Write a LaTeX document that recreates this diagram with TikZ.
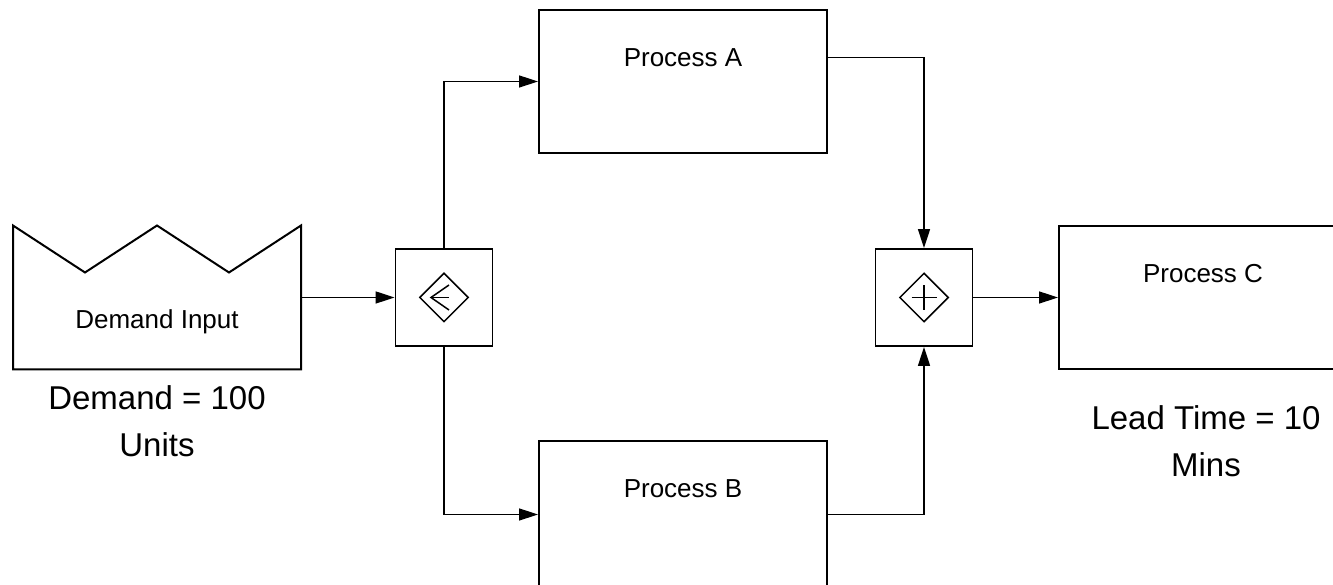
\documentclass[tikz,border=0pt]{standalone}
\usepackage{fontspec}
\setmainfont{Liberation Sans}
\usetikzlibrary{arrows.meta,calc,positioning,shapes.geometric}
\tikzset{
  proceso/.style={
    draw,
    line width=2pt,
    minimum width=288pt,
    minimum height=143pt,
    inner sep=0pt
  },
  titulo/.style={
    anchor=center,
    font=\fontsize{26}{30}\selectfont
  },
  entrada/.style={
    minimum width=288pt,
    minimum height=144pt,
    inner sep=0pt,
    outer sep=0pt
  },
  contorno/.style={
    line width=2pt,
    line join=miter
  },
  compuerta/.style={
    draw,
    line width=1.9pt,
    minimum size=97pt,
    inner sep=0pt
  },
  rombo/.style={
    diamond,
    draw,
    line width=1.5pt,
    minimum width=49pt,
    minimum height=49pt,
    inner sep=0pt
  },
  simbolo/.style={
    line width=1.5pt
  },
  nota/.style={
    align=center,
    font=\fontsize{33}{47}\selectfont
  },
  flecha/.style={
    -{Triangle[length=19pt,width=12pt]},
    line width=1.5pt
  }
}

\begin{document}
\begin{tikzpicture}[x=1pt,y=1pt,on grid]
\useasboundingbox (0,0) rectangle (1333,585);
\node[compuerta] (split) at (444,287.5) {};
\node[rombo] (splitrombo) at (split.center) {};
\node[entrada,left=287pt of split,label={[titulo,yshift=-24pt]center:Demand Input}] (demand) {};
\node[proceso,above right=216pt and 239pt of split,label={[titulo,yshift=24pt]center:Process A}] (procA) {};
\node[proceso,minimum height=147pt,below right=217pt and 239pt of split,label={[titulo,yshift=26pt]center:Process B}] (procB) {};
\node[compuerta,right=480pt of split] (join) {};
\node[rombo] (joinrombo) at (join.center) {};
\node[proceso,right=759pt of split,label={[titulo,yshift=24pt]center:Process C}] (procC) {};
\node[nota,below=123.5pt of demand] (demandnota) {Demand = 100\\Units};
\node[nota,below=144pt of procC,xshift=3pt] (leadnota) {Lead Time = 10\\Mins};

\draw[contorno] (demand.south west) -- (demand.north west) -- ++(72pt,-47pt)
  -- (demand.north) -- ++(72pt,-47pt) -- (demand.north east)
  -- (demand.south east) -- cycle;

\draw[simbolo] ([xshift=5pt,yshift=12.5pt]split.center) -- ([xshift=-13pt]split.center)
  -- ([xshift=5pt,yshift=-12.5pt]split.center);
\draw[simbolo] ([xshift=-13pt]split.center) -- ([xshift=5pt]split.center);
\draw[simbolo] ([xshift=-12.5pt]join.center) -- ([xshift=12.5pt]join.center);
\draw[simbolo] ([yshift=-12.5pt]join.center) -- ([yshift=12.5pt]join.center);

\draw[flecha] (demand.east) -- (split.west);
\draw[flecha] (split.north) |- (procA.west);
\draw[flecha] (split.south) |- (procB.west);
\draw[flecha] ([yshift=24pt]procA.east) -| (join.north);
\draw[flecha] (procB.east) -| (join.south);
\draw[flecha] (join.east) -- (procC.west);
\end{tikzpicture}
\end{document}
